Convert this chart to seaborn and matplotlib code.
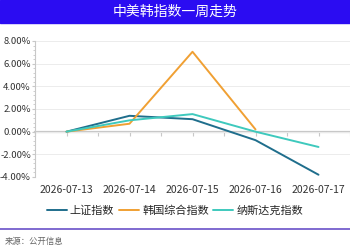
import numpy as np
import pandas as pd
import seaborn as sns
from matplotlib import pyplot as plt
from matplotlib.patches import Rectangle
from matplotlib.lines import Line2D
from matplotlib.ticker import FuncFormatter, MultipleLocator

dates = ["2026-07-13", "2026-07-14", "2026-07-15", "2026-07-16", "2026-07-17"]
series_names = ["上证指数", "韩国综合指数", "纳斯达克指数"]
shanghai = [0.0, 1.4, 1.1, -0.75, -3.8]
kospi = [0.0, 0.7, 7.05, 0.2, np.nan]
nasdaq = [0.0, 1.0, 1.55, 0.0, -1.35]
colors = ["#1f6e8c", "#f0a033", "#3ec9bd"]

sns.set_style("white")
plt.rcParams['font.family'] = ['Noto Sans CJK SC', 'DejaVu Sans']

rows = []
for name, vals in zip(series_names, [shanghai, kospi, nasdaq]):
    for d, v in zip(dates, vals):
        rows.append({"date": d, "series": name, "value": v})
df = pd.DataFrame(rows)

fig = plt.figure(figsize=(3.5, 2.5), dpi=100)
# title bar
fig.patches.append(Rectangle((0, 227 / 250), 1, 23 / 250, transform=fig.transFigure,
                             color="#2b0cf2", zorder=0))
fig.text(0.5, 238.5 / 250, "中美韩指数一周走势", color="white", fontsize=10,
         ha="center", va="center")

ax = fig.add_axes([35 / 350, 73 / 250, 315 / 350, 136 / 250])
ax: plt.Axes
sns.lineplot(data=df, x="date", y="value", hue="series", palette=colors,
             linewidth=1.4, ax=ax, legend=False, sort=False)

ax.set_xlim(-0.5, 4.5)
ax.set_ylim(-4, 8)
ax.yaxis.set_major_locator(MultipleLocator(2))
ax.yaxis.set_minor_locator(MultipleLocator(0.4))
ax.yaxis.set_major_formatter(FuncFormatter(lambda v, p: f"{v:.2f}%"))
ax.grid(axis="y", color="#ececec", linewidth=0.7)
for s in ["top", "right", "bottom"]:
    ax.spines[s].set_visible(False)
ax.spines["left"].set_color("#c8c8c8")
ax.spines["left"].set_linewidth(0.8)
ax.tick_params(axis="y", which="major", length=2.5, color="#c8c8c8", labelsize=6.8,
               labelcolor="#333333", pad=0.5, left=True)
ax.tick_params(axis="y", which="minor", length=1.5, color="#c8c8c8", left=True)
ax.tick_params(axis="x", length=0, labelsize=7.5, labelcolor="#333333", pad=6)
ax.set_xlabel("")
ax.set_ylabel("")

# zero axis with category ticks
zero = ax.secondary_xaxis(1 / 3)
zero.set_xticks(np.arange(-0.5, 4.6, 0.5))
zero.set_xticklabels([])
zero.spines["bottom"].set_color("#c8c8c8")
zero.spines["bottom"].set_linewidth(1.6)
zero.tick_params(length=3, color="#c8c8c8")

handles = [Line2D([], [], color=c, linewidth=1.4) for c in colors]
fig.legend(handles, series_names, loc="center", bbox_to_anchor=(0.5, 39 / 250),
           ncol=3, frameon=False, fontsize=8, handlelength=1.8, handletextpad=0.3,
           columnspacing=0.4)

fig.add_artist(Line2D([0, 1], [21 / 250, 21 / 250], color="#6a50c8", linewidth=1.2,
                      transform=fig.transFigure))
fig.text(5 / 350, 9 / 250, "来源：公开信息", fontsize=6, color="#666666",
         ha="left", va="center")

fig.savefig("out.png", dpi=100)
